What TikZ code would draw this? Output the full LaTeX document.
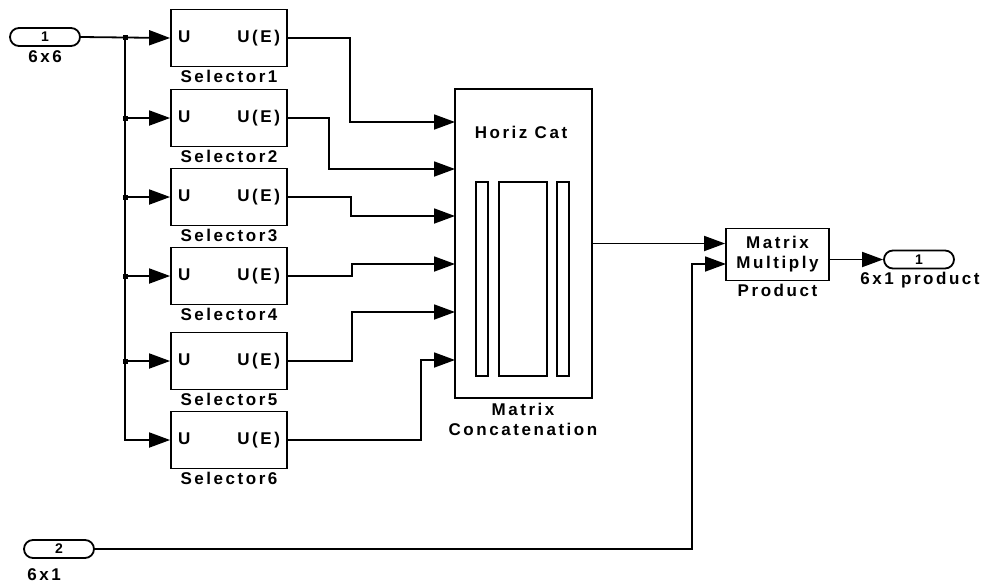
\documentclass[tikz,border=0pt]{standalone}
\usepackage{fontspec}
\setmainfont{Liberation Sans}[LetterSpace=15]
\usetikzlibrary{arrows.meta,calc}
\tikzset{
  txt/.style={font=\bfseries\fontsize{17}{20}\selectfont, inner sep=0pt},
  blk/.style={draw, line width=1.8pt, txt},
  selbox/.style={blk, minimum width=116pt, minimum height=57pt},
  port/.style={draw, line width=1.8pt, rounded corners=9pt, minimum width=70pt, minimum height=18pt, inner sep=0pt, font=\bfseries\fontsize{14}{14}\selectfont},
  wire/.style={line width=1.8pt},
  arr/.style={wire, -{Triangle[length=21pt,width=15pt]}},
  lab/.style={txt, anchor=north}
}
\newcommand{\uue}{\makebox[102pt]{U\hfill U(E)}}
\begin{document}
\begin{tikzpicture}[x=1pt,y=-1pt]
\useasboundingbox (0,0) rectangle (988,587);
% inports
\node[port] (in1) at (45,37) {1};
\node[txt] (in1l) at (45,57) {6x6};
\node[port] (in2) at (59,549) {2};
\node[txt] (in2l) at (44,575) {6x1};
% selectors
\node[selbox] (s1) at (229,38) {\uue};
\node[selbox] (s2) at (229,118) {\uue};
\node[selbox] (s3) at (229,197) {\uue};
\node[selbox] (s4) at (229,276) {\uue};
\node[selbox] (s5) at (229,361) {\uue};
\node[selbox] (s6) at (229,440) {\uue};
\foreach \i in {1,...,6}{
  \node[lab] (sl\i) at ($(s\i.south)+(0,3)$) {Selector\i};
}
% concatenation
\node[blk, minimum width=137pt, minimum height=309pt] (cat) at (523.5,243.5) {};
\node[txt] (catt) at (521,132) {Horiz Cat};
\draw[line width=1.8pt] (476,182) rectangle (488,376)
                        (499,182) rectangle (547,376)
                        (557,182) rectangle (569,376);
\node[txt, align=center, anchor=north] (catl) at (523,403) {Matrix\\Concatenation};
\coordinate (c1) at (455,122);
\coordinate (c2) at (455,169);
\coordinate (c3) at (455,216);
\coordinate (c4) at (455,264);
\coordinate (c5) at (455,312);
\coordinate (c6) at (455,360);
% product
\node[blk, minimum width=103pt, minimum height=52pt, align=center] (prod) at (777.5,254.5) {Matrix\\Multiply};
\node[lab] (prodl) at ($(prod.south)+(0,3)$) {Product};
\coordinate (p2) at (726,264);
% outport
\node[port] (out1) at (919,259.5) {1};
\node[lab] (out1l) at ($(out1.south)+(1,3)$) {6x1 product};
% bus
\coordinate (bus) at (125,37);
\draw[arr] (in1.east) -- (s1.west);
\draw[arr] (bus) |- (s6.west);
\foreach \i in {2,...,5}{
  \draw[arr] (bus |- s\i.west) -- (s\i.west);
  \fill ($(bus |- s\i.west)+(-2,-2.5)$) rectangle ++(5,5);
}
\fill ($(bus)+(-2,-2.5)$) rectangle ++(5,5);
% selector outputs to concat
\draw[arr] (s1.east) -- ++(62,0) |- (c1);
\draw[arr] (s2.east) -- ++(41,0) |- (c2);
\draw[arr] (s3.east) -- ++(63,0) |- (c3);
\draw[arr] (s4.east) -- ++(64,0) |- (c4);
\draw[arr] (s5.east) -- ++(64,0) |- (c5);
\draw[arr] (s6.east) -- ++(133,0) |- (c6);
% concat to product
\draw[arr] (cat.east) -- (cat.east -| prod.west);
\draw[arr] (in2.east) -| ($(p2)+(-34,0)$) -- (p2);
\draw[arr] (prod.east |- out1.west) -- (out1.west);
\end{tikzpicture}
\end{document}
